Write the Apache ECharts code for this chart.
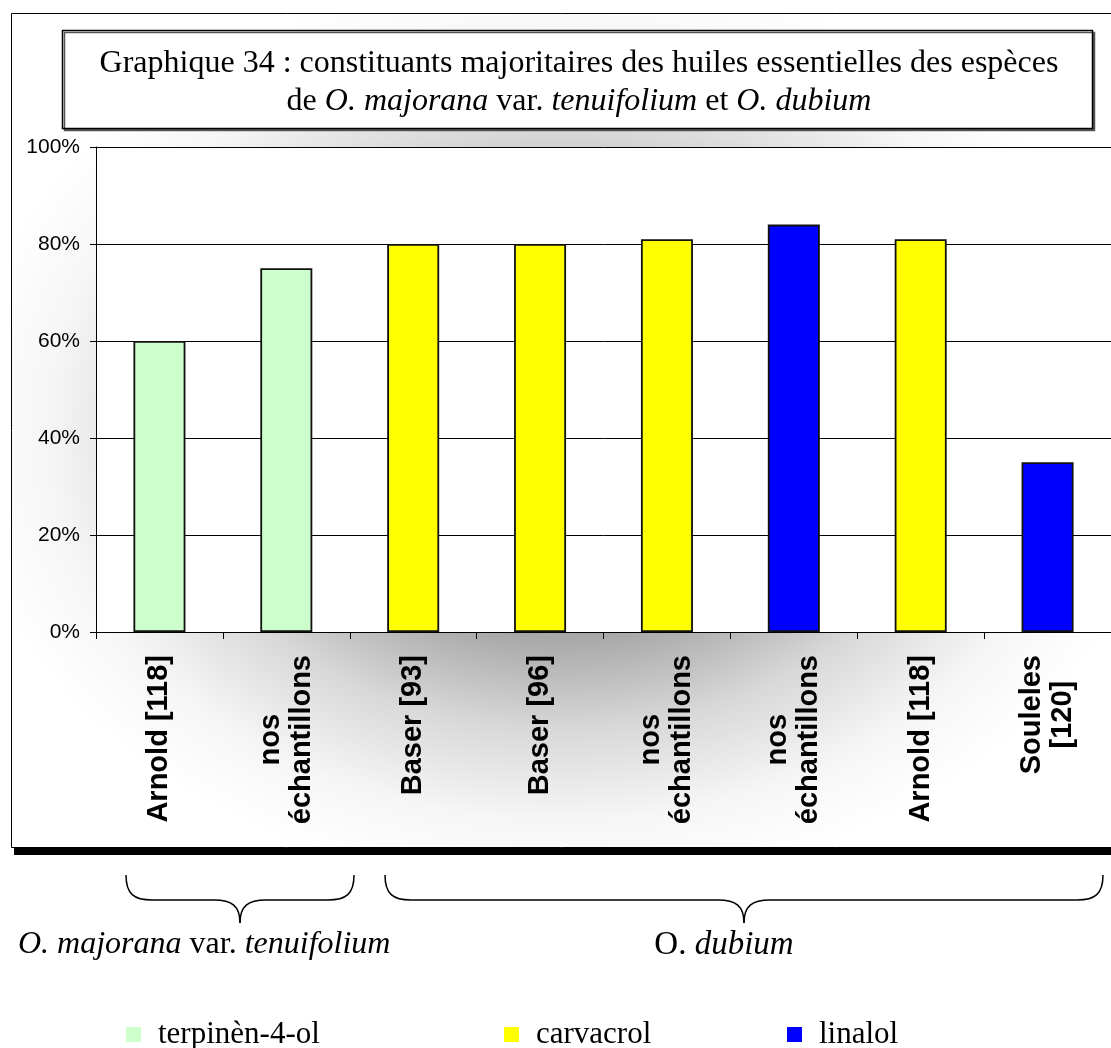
<!DOCTYPE html>
<html>
<head>
<meta charset="utf-8">
<script src="https://cdn.jsdelivr.net/npm/echarts@6/dist/echarts.min.js"></script>
<style>
  html, body { margin: 0; padding: 0; background: #fff; }
  #main { width: 1111px; height: 1048px; }
</style>
</head>
<body>
<div id="main"></div>
<script>
// données
var categories = ['Arnold [118]', 'nos\néchantillons', 'Baser [93]', 'Baser [96]', 'nos\néchantillons', 'nos\néchantillons', 'Arnold [118]', 'Souleles\n[120]'];
var compounds = ['terpinèn-4-ol', 'terpinèn-4-ol', 'carvacrol', 'carvacrol', 'carvacrol', 'linalol', 'carvacrol', 'linalol'];
var values = [60, 75, 80, 80, 81, 84, 81, 35];
var seriesNames = ['terpinèn-4-ol', 'carvacrol', 'linalol'];
var seriesColors = ['#ccffcc', '#ffff00', '#0000ff'];
var yTicks = [0, 20, 40, 60, 80, 100];
var legendLeft = [126, 504, 787];

var SERIF = 'Liberation Serif';
var SANS = 'Liberation Sans';

var chart = echarts.init(document.getElementById('main'));

// une série par constituant, superposées (barGap -100%)
var series = seriesNames.map(function (name, k) {
  return {
    name: name,
    type: 'bar',
    barWidth: 52,
    barGap: '-100%',
    itemStyle: { color: seriesColors[k], borderColor: '#111', borderWidth: 1.8 },
    data: values.map(function (v, i) { return compounds[i] === name ? v : '-'; })
  };
});

var legends = seriesNames.map(function (name, k) {
  return {
    data: [name],
    left: legendLeft[k],
    top: 1019,
    padding: 0,
    icon: 'rect',
    itemWidth: 15,
    itemHeight: 15,
    itemStyle: { borderWidth: 0 },
    textStyle: { fontFamily: SERIF, fontSize: 31, color: '#000', padding: [0, 0, 0, 12] }
  };
});

// accolade : deux bras (courbe + segment) jusqu'à la pointe
function brace(x1, x2, xm, yTop, yMid, yTip) {
  var st = { stroke: '#000', lineWidth: 1.5, fill: null };
  var r = 26;
  var els = [];
  [[x1, 1], [x2, -1]].forEach(function (p) {
    var x = p[0], d = p[1];
    els.push({ type: 'bezierCurve', z: -8, silent: true, style: st,
      shape: { x1: x, y1: yTop, cpx1: x, cpy1: yMid - 6, cpx2: x + d * 8, cpy2: yMid, x2: x + d * r, y2: yMid } });
    els.push({ type: 'line', z: -8, silent: true, style: st,
      shape: { x1: x + d * r, y1: yMid, x2: xm - d * r, y2: yMid } });
    els.push({ type: 'bezierCurve', z: -8, silent: true, style: st,
      shape: { x1: xm - d * r, y1: yMid, cpx1: xm - d * 8, cpy1: yMid, cpx2: xm, cpy2: yMid + 6, x2: xm, y2: yTip } });
  });
  return els;
}

var option = {
  animation: false,
  backgroundColor: '#fff',
  title: {
    left: 579,
    top: 45,
    padding: 0,
    textAlign: 'center',
    text: '{n|Graphique 34 : constituants majoritaires des huiles essentielles des espèces}\n' +
      '{n|de }{i|O. majorana}{n| var. }{i|tenuifolium}{n| et }{i|O. dubium}',
    textStyle: {
      fontWeight: 'normal',
      rich: {
        n: { fontFamily: SERIF, fontSize: 32, fontWeight: 'normal', color: '#000', lineHeight: 38 },
        i: { fontFamily: SERIF, fontSize: 32, fontWeight: 'normal', fontStyle: 'italic', color: '#000', lineHeight: 38 }
      }
    }
  },
  legend: legends,
  grid: {
    left: 96, top: 147, right: -9, bottom: 416,
    show: true, backgroundColor: '#fff', borderWidth: 0
  },
  xAxis: {
    type: 'category',
    data: categories,
    axisLine: { lineStyle: { color: '#000', width: 1 } },
    axisTick: { show: true, length: 7, lineStyle: { color: '#000' } },
    splitLine: { show: false },
    axisLabel: {
      rotate: 90,
      margin: 23,
      interval: 0,
      formatter: function (v) {
        return v.split('\n').map(function (s) { return '{c|' + s + '}'; }).join('\n');
      },
      rich: {
        c: { align: 'center', fontFamily: SANS, fontWeight: 'bold', fontSize: 29, lineHeight: 31, color: '#000' }
      }
    }
  },
  yAxis: {
    type: 'value',
    min: yTicks[0],
    max: yTicks[yTicks.length - 1],
    interval: yTicks[1] - yTicks[0],
    axisLine: { show: true, lineStyle: { color: '#000', width: 1 } },
    axisTick: { show: true, length: 6, lineStyle: { color: '#000' } },
    splitLine: { show: true, lineStyle: { color: '#000', width: 1 } },
    axisLabel: { margin: 16, formatter: '{value}%', fontFamily: SANS, fontSize: 21, color: '#000' }
  },
  graphic: [
    // fond dégradé du cadre
    {
      type: 'rect', z: -10, x: 11, y: 13, scaleY: 835 / 1100, silent: true,
      shape: { x: 0, y: 0, width: 1100, height: 1100 },
      style: {
        fill: {
          type: 'radial', x: 0.5, y: 0.5, r: 0.55,
          colorStops: [
            { offset: 0, color: '#999999' },
            { offset: 0.45, color: '#a8a8a8' },
            { offset: 0.65, color: '#d8d8d8' },
            { offset: 0.85, color: '#f6f6f6' },
            { offset: 1, color: '#ffffff' }
          ]
        }
      }
    },
    { type: 'rect', z: -9, silent: true, shape: { x: 14, y: 848, width: 1100, height: 7 }, style: { fill: '#000' } },
    { type: 'rect', z: -9, silent: true, shape: { x: 11.5, y: 13.5, width: 1110, height: 834 }, style: { fill: null, stroke: '#000', lineWidth: 1 } },
    // cadre du titre
    {
      type: 'rect', z: -8, silent: true, shape: { x: 62.5, y: 30.5, width: 1030, height: 98 },
      style: { fill: '#fff', stroke: '#000', lineWidth: 1.5, shadowColor: '#555', shadowOffsetX: 2, shadowOffsetY: 2, shadowBlur: 0 }
    },
    {
      type: 'text', z: -8, x: 18, y: 945,
      style: {
        text: '{i|O. majorana}{n| var. }{i|tenuifolium}',
        verticalAlign: 'middle',
        rich: {
          n: { fontFamily: SERIF, fontSize: 32, fill: '#000' },
          i: { fontFamily: SERIF, fontSize: 32, fontStyle: 'italic', fill: '#000' }
        }
      }
    },
    {
      type: 'text', z: -8, x: 724, y: 945,
      style: {
        text: '{n|O. }{i|dubium}',
        align: 'center',
        verticalAlign: 'middle',
        rich: {
          n: { fontFamily: SERIF, fontSize: 33, fill: '#000' },
          i: { fontFamily: SERIF, fontSize: 33, fontStyle: 'italic', fill: '#000' }
        }
      }
    }
  ].concat(brace(126, 354, 240, 875, 900, 923), brace(385, 1103, 744, 875, 900, 923)),
  series: series
};

chart.setOption(option);
</script>
</body>
</html>
